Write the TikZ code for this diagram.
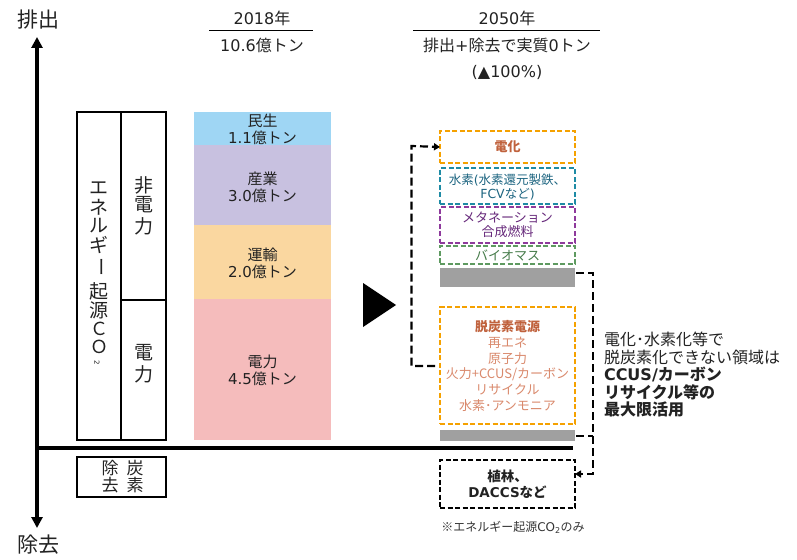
\documentclass[tikz,border=0pt]{standalone}
\usepackage{fontspec}
\usepackage{graphicx}
\setmainfont{Noto Sans CJK JP}
\newfontfamily\latf{DejaVu Sans}
\newcommand{\La}[1]{{\latf #1}}
\usetikzlibrary{arrows.meta}
\definecolor{txt}{HTML}{222222}
\definecolor{cminsei}{HTML}{9FD6F4}
\definecolor{csangyo}{HTML}{C8C1E0}
\definecolor{cunyu}{HTML}{FAD7A0}
\definecolor{cdenryoku}{HTML}{F5BCBC}
\definecolor{cgray}{HTML}{A0A0A0}
\definecolor{corange}{HTML}{F5A100}
\definecolor{cdenka}{HTML}{C0623D}
\definecolor{clight}{HTML}{D9896C}
\definecolor{cteal}{HTML}{1E8BA5}
\definecolor{ctealtxt}{HTML}{1C6480}
\definecolor{cpurple}{HTML}{8E3A9C}
\definecolor{cpurpletxt}{HTML}{66287A}
\definecolor{cgreen}{HTML}{5E9A60}
\definecolor{cgreentxt}{HTML}{447A48}
\newcommand{\fs}[1]{\fontsize{#1}{#1}\selectfont}
\begin{document}
\begin{tikzpicture}[x=1pt,y=-1pt,
  every node/.style={inner sep=0pt, outer sep=0pt, text=txt},
  axisline/.style={line width=3.5pt, draw=black},
  framebox/.style={draw=black, line width=1.3pt, minimum width=#1, anchor=north west},
  bar/.style={rectangle, minimum width=137pt, anchor=north west},
  bartxt/.style={font=\fs{15}, align=center},
  dbox/.style={draw=#1, line width=1.6pt, dash pattern=on 5pt off 2.5pt, minimum width=135pt, anchor=north west},
  graybar/.style={fill=cgray, minimum width=135pt, anchor=north west},
  conn/.style={draw=black, line width=2.2pt, dash pattern=on 8pt off 4pt},
  tip/.style={-{Triangle[length=6pt,width=7pt]}},
  vchar/.style={font=\fs{19}}
]
\useasboundingbox (0,0) rectangle (797,559);

% axes
\node[font=\fs{21}] (haishutsu) at (38,20) {排出};
\node[font=\fs{21}] (jokyo) at (38,545) {除去};
\coordinate (axtop) at (37,37);
\coordinate (axbot) at (37,528);
\coordinate (axmid) at (37,448);
\coordinate (hend) at (573,448);
\draw[axisline, {Triangle[length=11pt,width=11pt]}-{Triangle[length=11pt,width=11pt]}] (axbot) -- (axtop);
\draw[line width=4pt] (axmid) -- (hend);

% headings
\node[font=\fs{16}] (y2018) at (262,18) {\La{2018}年};
\node[font=\fs{16}] (t2018) at (262,45) {\La{10.6}億トン};
\coordinate (l2018a) at (209,30.5);
\coordinate (l2018b) at (313,30.5);
\draw[line width=1.1pt] (l2018a) -- (l2018b);
\node[font=\fs{16}] (y2050) at (507,18) {\La{2050}年};
\node[font=\fs{16}] (t2050) at (507,45) {排出\La{+}除去で実質\La{0}トン};
\node[font=\fs{16}] (p2050) at (507,72) {\La{(▲100\%)}};
\coordinate (l2050a) at (413,30.5);
\coordinate (l2050b) at (600,30.5);
\draw[line width=1.1pt] (l2050a) -- (l2050b);

% left category boxes
\node[framebox=44pt, minimum height=328pt] (ene) at (77,112) {};
\node[framebox=45pt, minimum height=188pt] (hiden) at (121,112) {};
\node[framebox=45pt, minimum height=140pt] (den) at (121,300) {};
\node[vchar] (v1) at (99,188) {エ};
\node[vchar] (v2) at (99,207) {ネ};
\node[vchar] (v3) at (99,226) {ル};
\node[vchar] (v4) at (99,245) {ギ};
\node[vchar, rotate=-90] (v5) at (99,267) {ー};
\node[vchar] (v6) at (99,291) {起};
\node[vchar] (v7) at (99,310) {源};
\node[font=\fs{18}] (v8) at (99,329) {Ｃ};
\node[font=\fs{18}] (v9) at (99,347) {Ｏ};
\node[font=\latf\fs{7}, rotate=-90] (v10) at (97,363) {2};
\node[vchar] (h1) at (144,185) {非};
\node[vchar] (h2) at (144,205) {電};
\node[vchar] (h3) at (144,226) {力};
\node[vchar] (d1) at (144,353) {電};
\node[vchar] (d2) at (144,374) {力};
\node[framebox=89pt, minimum height=40pt] (tanso) at (77,457) {};
\node[font=\fs{17}] (c1) at (135,468) {炭};
\node[font=\fs{17}] (c2) at (135,485) {素};
\node[font=\fs{17}] (c3) at (110,468) {除};
\node[font=\fs{17}] (c4) at (110,485) {去};

% bars
\node[bar, fill=cminsei, minimum height=33pt] (bminsei) at (194,112) {};
\node[bar, fill=csangyo, minimum height=80pt] (bsangyo) at (194,145) {};
\node[bar, fill=cunyu, minimum height=74pt] (bunyu) at (194,225) {};
\node[bar, fill=cdenryoku, minimum height=141pt] (bden) at (194,299) {};
\node[bartxt] (tminsei) at (262.5,129.5) {民生\\[2pt]\La{1.1}億トン};
\node[bartxt] (tsangyo) at (262.5,187.5) {産業\\[2pt]\La{3.0}億トン};
\node[bartxt] (tunyu) at (262.5,263.5) {運輸\\[2pt]\La{2.0}億トン};
\node[bartxt] (tden) at (262.5,370.5) {電力\\[2pt]\La{4.5}億トン};

% pointer triangle
\fill[black] (363,283) -- (396,305) -- (363,327) -- cycle;

% right boxes
\node[dbox=corange, minimum height=32pt] (denka) at (440,131) {};
\node[font=\bfseries\fs{13}, text=cdenka] (denkatxt) at (denka.center) {電化};
\node[dbox=cteal, minimum height=36pt] (suiso) at (440,168) {};
\node[font=\fs{12.5}, text=ctealtxt] (suiso1) at (507.5,180) {水素\La{(}水素還元製鉄、};
\node[font=\fs{12.5}, text=ctealtxt] (suiso2) at (507.5,194) {\La{FCV}など\La{)}};
\node[dbox=cpurple, minimum height=36pt] (meta) at (440,207) {};
\node[font=\fs{13}, text=cpurpletxt, align=center] (metatxt) at (507.5,225) {メタネーション\\[1.5pt]合成燃料};
\node[dbox=cgreen, minimum height=18pt] (bio) at (440,246) {};
\node[font=\fs{13}, text=cgreentxt] (biotxt) at (bio.center) {バイオマス};
\node[graybar, minimum height=19pt] (gray1) at (440,268) {};
\node[dbox=corange, minimum height=117pt] (datsu) at (440,307) {};
\node[font=\fs{13}, text=clight, align=center] (datsutxt) at (507.5,366)
 {\textcolor{cdenka}{\bfseries 脱炭素電源}\\[2.8pt]再エネ\\[2.8pt]原子力\\[2.8pt]火力+CCUS/カーボン\\[2.8pt]リサイクル\\[2.8pt]水素･アンモニア};
\node[graybar, minimum height=11pt] (gray2) at (440,430) {};
\node[dbox=black, minimum height=48pt] (shoku) at (440,460) {};
\node[font=\bfseries\fs{13.5}, align=center] (shokutxt) at (shoku.center) {植林、\\[2pt]\La{DACCS}など};
\node[font=\fs{12}, text=black!80] (note) at (513,527) {※エネルギー起源\La{CO\textsubscript{2}}のみ};

% right explanation
\node[font=\fs{16}, align=left, anchor=north west] (expl) at (604,332)
 {電化･水素化等で\\[1.5pt]脱炭素化できない領域は\\[1.5pt]{\bfseries \La{CCUS/}カーボン}\\[1.5pt]{\bfseries リサイクル等の}\\[1.5pt]{\bfseries 最大限活用}};

% connectors
\coordinate (ls) at (435,366);
\coordinate (lc1) at (411.5,366);
\coordinate (lc2) at (411.5,146);
\draw[conn, tip] (ls) -- (lc1) -- (lc2) -- (denka.west);
\coordinate (rs1) at (576,273);
\coordinate (rc1) at (593,273);
\coordinate (rc2) at (593,474);
\coordinate (rs2) at (576,436);
\coordinate (rj2) at (593,436);
\draw[conn, tip] (rs1) -- (rc1) -- (rc2) -- (shoku.east |- rc2);
\draw[conn] (rs2) -- (rj2);
\end{tikzpicture}
\end{document}
